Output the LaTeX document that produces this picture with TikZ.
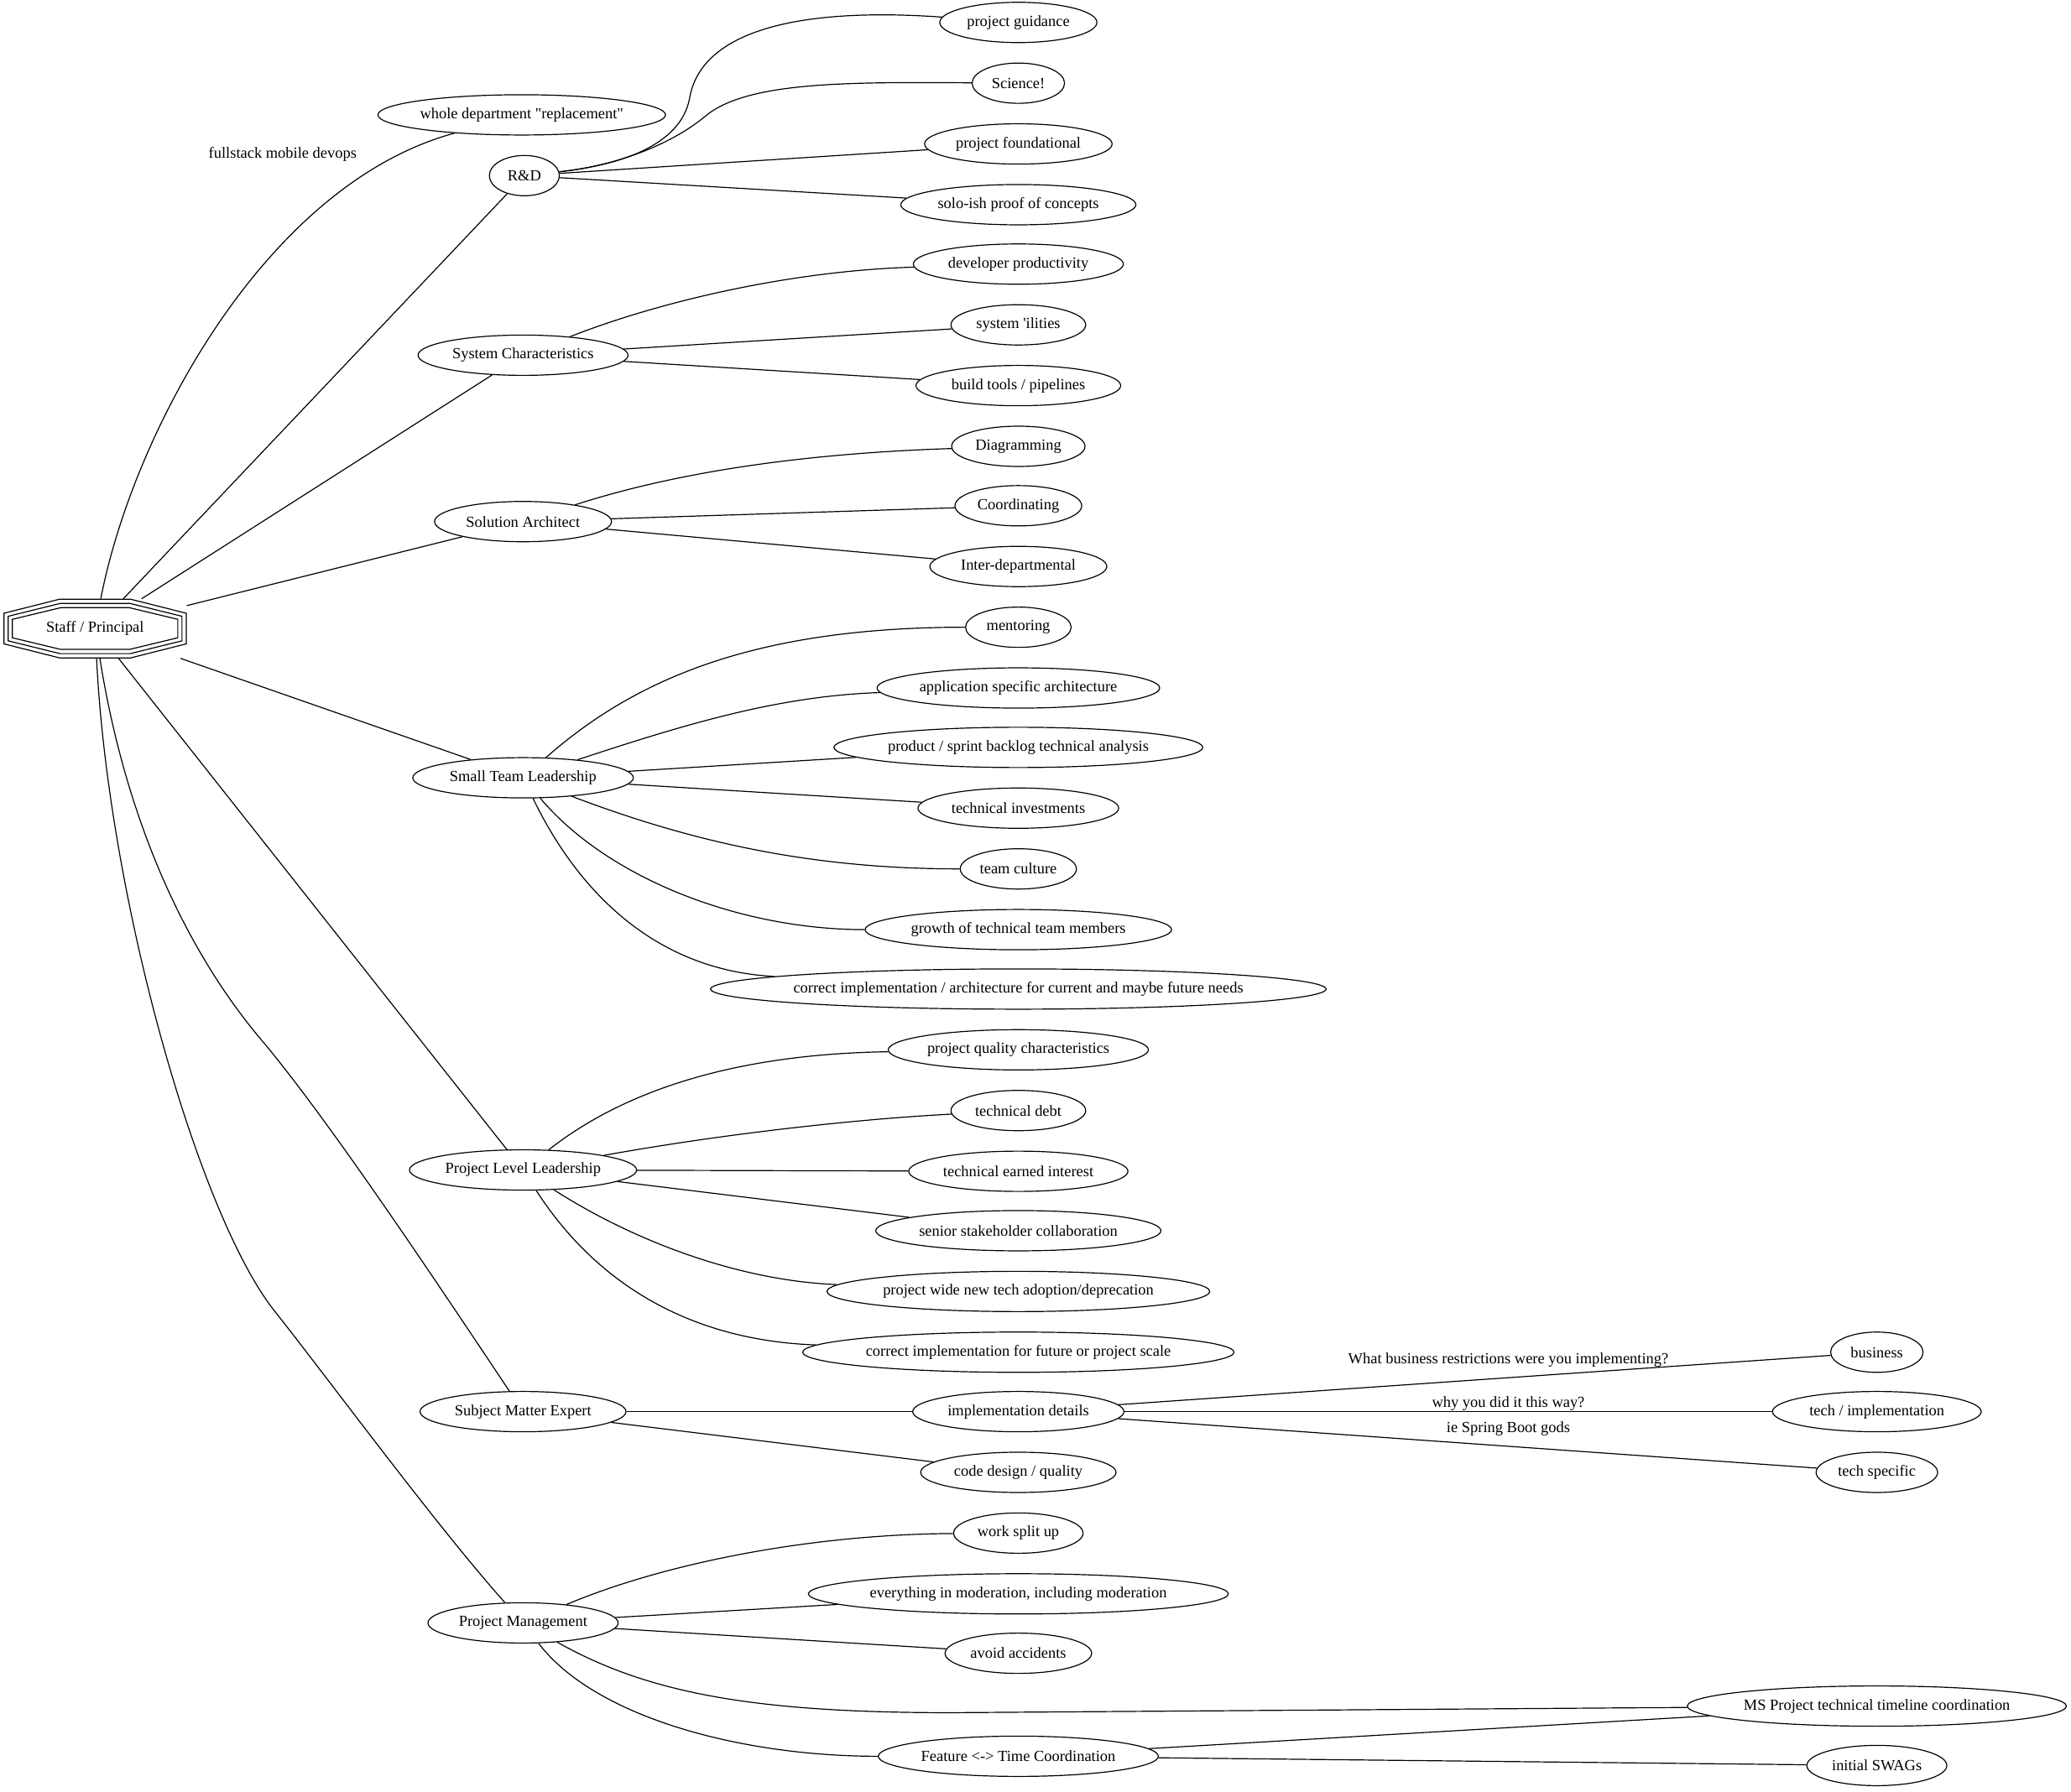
\documentclass[tikz,border=0pt]{standalone}
\usepackage{fontspec}
\setmainfont{Liberation Serif}
\usetikzlibrary{shapes.geometric}

\tikzset{
  leaf/.style={ellipse, draw, inner sep=0pt, minimum height=0.915cm},
  wd/.style={minimum width=#1*0.03cm},
  lbl/.style={inner sep=1pt}
}

\begin{document}
\begin{tikzpicture}[x=0.03cm, y=-0.03cm, line width=0.65pt]
  \useasboundingbox (0,0) rectangle (1568,1357);

  % root, drawn as three nested octagons
  \node[inner sep=0pt, minimum width=4.14cm, minimum height=1.33cm] (root) at (72,476) {Staff / Principal};
  \foreach \a/\b/\c/\t in {69/22.2/11.6/27, 65.8/19/9.3/26.5, 62.6/15.8/7/26}
    \draw[shift={(root.center)}] (-\a,-\c) -- (-\a,\c) -- (-\t,\b) -- (\t,\b) -- (\a,\c) -- (\a,-\c) -- (\t,-\b) -- (-\t,-\b) -- cycle;

  % first column
  \node[leaf, wd=217] (dept) at (395,87) {whole department \textquotedbl replacement\textquotedbl};
  \node[leaf, wd=53] (rd) at (397,133) {R\&D};
  \node[leaf, wd=159] (sc) at (396,269) {System Characteristics};
  \node[leaf, wd=134] (sa) at (396,395) {Solution Architect};
  \node[leaf, wd=167] (stl) at (396,589) {Small Team Leadership};
  \node[leaf, wd=172] (pll) at (396,886) {Project Level Leadership};
  \node[leaf, wd=156] (sme) at (396,1069) {Subject Matter Expert};
  \node[leaf, wd=144] (pm) at (396,1229) {Project Management};

  % second column
  \node[leaf, wd=119] (pg) at (771,17) {project guidance};
  \node[leaf, wd=70] (sci) at (771,63) {Science!};
  \node[leaf, wd=142] (pf) at (771,109) {project foundational};
  \node[leaf, wd=178] (solo) at (771,155) {solo-ish proof of concepts};
  \node[leaf, wd=159] (dp) at (771,200) {developer productivity};
  \node[leaf, wd=102] (il) at (771,246) {system \textquotesingle ilities};
  \node[leaf, wd=155] (bt) at (771,292) {build tools / pipelines};
  \node[leaf, wd=101] (dg) at (771,338) {Diagramming};
  \node[leaf, wd=96] (co) at (771,383) {Coordinating};
  \node[leaf, wd=134] (id) at (771,429) {Inter-departmental};
  \node[leaf, wd=80] (me) at (771,475) {mentoring};
  \node[leaf, wd=214] (asa) at (771,521) {application specific architecture};
  \node[leaf, wd=278] (psb) at (771,566) {product / sprint backlog technical analysis};
  \node[leaf, wd=152] (ti) at (771,612) {technical investments};
  \node[leaf, wd=88] (tc) at (771,658) {team culture};
  \node[leaf, wd=232] (gr) at (771,704) {growth of technical team members};
  \node[leaf, wd=466, inner xsep=-0.22cm] (ci) at (771,749) {correct implementation / architecture for current and maybe future needs};
  \node[leaf, wd=197] (pq) at (771,795) {project quality characteristics};
  \node[leaf, wd=102] (td) at (771,841) {technical debt};
  \node[leaf, wd=166] (tei) at (771,887) {technical earned interest};
  \node[leaf, wd=216] (ssc) at (771,932) {senior stakeholder collaboration};
  \node[leaf, wd=287] (pw) at (771,978) {project wide new tech adoption/deprecation};
  \node[leaf, wd=319] (cif) at (771,1024) {correct implementation for future or project scale};
  \node[leaf, wd=160] (imp) at (771,1069) {implementation details};
  \node[leaf, wd=148] (cd) at (771,1115) {code design / quality};
  \node[leaf, wd=98] (ws) at (771,1161) {work split up};
  \node[leaf, wd=315] (ev) at (771,1207) {everything in moderation, including moderation};
  \node[leaf, wd=111] (aa) at (771,1252) {avoid accidents};
  \node[leaf, wd=212] (ft) at (771,1330) {Feature <-> Time Coordination};

  % third column
  \node[leaf, wd=70] (bus) at (1421,1024) {business};
  \node[leaf, wd=158] (timp) at (1421,1069) {tech / implementation};
  \node[leaf, wd=92] (ts) at (1421,1115) {tech specific};
  \node[leaf, wd=287] (ms) at (1421,1292) {MS Project technical timeline coordination};
  \node[leaf, wd=106] (sw) at (1421,1337) {initial SWAGs};

  % edge labels
  \node[lbl] (lfs) at (214,117) {fullstack mobile devops};
  \node[lbl] (lbus) at (1142,1030) {What business restrictions were you implementing?};
  \node[lbl] (lwhy) at (1142,1063) {why you did it this way?};
  \node[lbl] (lsb) at (1142,1082) {ie Spring Boot gods};

  % root edges
  \draw (root) .. controls (100,330) and (200,140) .. (dept);
  \draw (root) -- (rd);
  \draw (root) -- (sc);
  \draw (root) -- (sa);
  \draw (root) -- (stl);
  \draw (root) -- (pll);
  \draw (root) .. controls (95,620) and (140,720) .. (200,790) .. controls (250,850) and (330,970) .. (sme);
  \draw (root) .. controls (82,680) and (150,920) .. (208,993) .. controls (250,1046) and (330,1155) .. (pm);

  % R&D
  \draw (rd) .. controls (470,125) and (515,110) .. (522,75) .. controls (530,25) and (600,5) .. (pg);
  \draw (rd) .. controls (470,125) and (510,108) .. (534,88) .. controls (565,62) and (640,62) .. (sci);
  \draw (rd) -- (pf);
  \draw (rd) -- (solo);

  % system characteristics
  \draw (sc) .. controls (500,228) and (600,205) .. (dp);
  \draw (sc) -- (il);
  \draw (sc) -- (bt);

  % solution architect
  \draw (sa) .. controls (520,355) and (620,343) .. (dg);
  \draw (sa) -- (co);
  \draw (sa) -- (id);

  % small team leadership
  \draw (stl) .. controls (480,515) and (570,475) .. (me);
  \draw (stl) .. controls (520,548) and (590,527) .. (asa);
  \draw (stl) -- (psb);
  \draw (stl) -- (ti);
  \draw (stl) .. controls (530,640) and (620,658) .. (tc);
  \draw (stl) .. controls (460,665) and (560,704) .. (gr);
  \draw (stl) .. controls (440,680) and (500,735) .. (ci);

  % project level leadership
  \draw (pll) .. controls (480,820) and (570,798) .. (pq);
  \draw (pll) .. controls (540,860) and (640,848) .. (td);
  \draw (pll) -- (tei);
  \draw (pll) -- (ssc);
  \draw (pll) .. controls (480,940) and (560,970) .. (pw);
  \draw (pll) .. controls (450,970) and (520,1015) .. (cif);

  % subject matter expert
  \draw (sme) -- (imp);
  \draw (sme) -- (cd);
  \draw (imp) -- (bus);
  \draw (imp) -- (timp);
  \draw (imp) -- (ts);

  % project management
  \draw (pm) .. controls (500,1185) and (610,1162) .. (ws);
  \draw (pm) -- (ev);
  \draw (pm) -- (aa);
  \draw (pm) .. controls (490,1282) and (570,1297) .. (720,1297) -- (ms);
  \draw (pm) .. controls (450,1300) and (560,1330) .. (ft);
  \draw (ft) -- (ms);
  \draw (ft) -- (sw);
\end{tikzpicture}
\end{document}
